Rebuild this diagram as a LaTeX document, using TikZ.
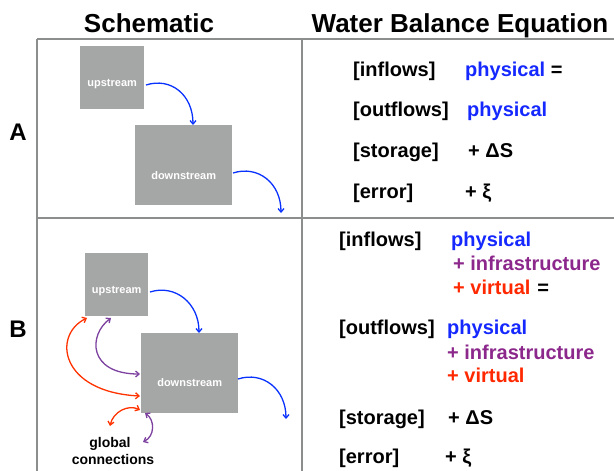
\documentclass[tikz,border=0pt]{standalone}
\usepackage{fontspec}
\setmainfont{Liberation Sans}
\usetikzlibrary{arrows.meta}
\definecolor{gridgray}{RGB}{140,142,142}
\definecolor{boxgray}{RGB}{165,167,166}
\definecolor{flowblue}{RGB}{10,50,255}
\definecolor{flowpurple}{RGB}{125,65,160}
\definecolor{flowred}{RGB}{255,50,0}
\definecolor{txtblue}{RGB}{20,40,255}
\definecolor{txtpurple}{RGB}{140,40,140}
\definecolor{txtred}{RGB}{255,40,0}
\begin{document}
\begin{tikzpicture}[x=1pt,y=-1pt,
  gridline/.style={draw=gridgray, line width=2pt},
  boxnode/.style={fill=boxgray, draw=none, inner sep=0pt, anchor=north west},
  boxlbl/.style={text=white, font=\fontsize{11}{13}\selectfont\bfseries, inner sep=0pt},
  header/.style={anchor=base, inner sep=0pt, font=\fontsize{26}{30}\selectfont\bfseries},
  rowlbl/.style={anchor=base, inner sep=0pt, font=\fontsize{24}{28}\selectfont\bfseries},
  eq/.style={anchor=base west, inner sep=0pt, font=\fontsize{20}{24}\selectfont\bfseries},
  flowarrow/.style={line width=1.3pt, -{Straight Barb[length=3.5pt,width=6pt]}},
  flowboth/.style={line width=1.3pt, {Straight Barb[length=3.5pt,width=6pt]}-{Straight Barb[length=3.5pt,width=6pt]}},
  gc/.style={anchor=base, inner sep=0pt, font=\fontsize{14}{16}\selectfont\bfseries}]
\useasboundingbox (0,0) rectangle (614,471);

% grid
\draw[gridline] (37,39) -- (614,39);
\draw[gridline] (37,39) -- (37,471);
\draw[gridline] (302,39) -- (302,471);
\draw[gridline] (37,218) -- (614,218);

% headers
\node[header] (hS) at (149,32) {Schematic};
\node[header] (hW) at (460,32) {Water Balance Equation};
\node[rowlbl] (rA) at (18,140) {A};
\node[rowlbl] (rB) at (18,337) {B};

% ---- Panel A schematic
\node[boxnode, minimum width=64pt, minimum height=63pt,
  label={[boxlbl, yshift=-6pt]center:upstream}] (upA) at (80,46) {};
\node[boxnode, minimum width=97pt, minimum height=80pt,
  label={[boxlbl, yshift=-10pt]center:downstream}] (downA) at (135,125) {};
\coordinate (a1s) at (146,85);
\coordinate (a1e) at (193,125);
\coordinate (a2s) at (233,173);
\coordinate (a2e) at (281,213);
\draw[flowarrow, flowblue] (a1s) .. controls +(25,-8) and +(0,-30) .. (a1e);
\draw[flowarrow, flowblue] (a2s) .. controls +(25,-8) and +(0,-30) .. (a2e);

% ---- Panel B schematic
\node[boxnode, minimum width=63pt, minimum height=63pt,
  label={[boxlbl, yshift=-6.5pt]center:upstream}] (upB) at (85,253) {};
\node[boxnode, minimum width=97pt, minimum height=80pt,
  label={[boxlbl, yshift=-9pt]center:downstream}] (downB) at (141,333) {};
\coordinate (b1s) at (150,292);
\coordinate (b1e) at (199,333);
\coordinate (b2s) at (238,379);
\coordinate (b2e) at (286,419);
\draw[flowarrow, flowblue] (b1s) .. controls +(25,-8) and +(0,-30) .. (b1e);
\draw[flowarrow, flowblue] (b2s) .. controls +(25,-8) and +(0,-30) .. (b2e);

\coordinate (r1s) at (87,318);
\coordinate (r1e) at (140,396);
\draw[flowboth, flowred] (r1s) .. controls +(-35,17) and +(-80,-4) .. (r1e);
\coordinate (p1s) at (111,318);
\coordinate (p1e) at (140,374);
\draw[flowboth, flowpurple] (p1s) .. controls +(-23,17) and +(-52,0) .. (p1e);
\coordinate (r2s) at (140,410);
\coordinate (r2e) at (110,426);
\draw[flowboth, flowred] (r2s) .. controls +(-12,-6) and +(3,-14) .. (r2e);
\coordinate (p2s) at (145,413);
\coordinate (p2e) at (143,442);
\draw[flowboth, flowpurple] (p2s) .. controls +(10,7) and +(12,-6) .. (p2e);

\node[gc] (gc1) at (110,447) {global};
\node[gc] (gc2) at (113,464) {connections};

% ---- Panel A equation
\node[eq] (aI) at (353,76.5) {[inflows]};
\node[eq] (aIv) at (465,76.5) {\textcolor{txtblue}{physical} =};
\node[eq] (aO) at (353,116.5) {[outflows]};
\node[eq] (aOv) at (467,116.5) {\textcolor{txtblue}{physical}};
\node[eq] (aS) at (353,157.5) {[storage]};
\node[eq] (aSv) at (468,157.5) {+ ΔS};
\node[eq] (aE) at (353,198.5) {[error]};
\node[eq] (aEv) at (465,198.5) {+ ξ};

% ---- Panel B equation
\node[eq] (bI) at (339,246.5) {[inflows]};
\node[eq] (bI1) at (451,246.5) {\textcolor{txtblue}{physical}};
\node[eq] (bI2) at (453,270.5) {\textcolor{txtpurple}{+ infrastructure}};
\node[eq] (bI3) at (453,294.5) {\textcolor{txtred}{+ virtual}\hspace{7pt}=};
\node[eq] (bO) at (339,334.5) {[outflows]};
\node[eq] (bO1) at (447,334.5) {\textcolor{txtblue}{physical}};
\node[eq] (bO2) at (447,359.5) {\textcolor{txtpurple}{+ infrastructure}};
\node[eq] (bO3) at (447,382.5) {\textcolor{txtred}{+ virtual}};
\node[eq] (bS) at (339,424.5) {[storage]};
\node[eq] (bSv) at (448,424.5) {+ ΔS};
\node[eq] (bE) at (339,463.5) {[error]};
\node[eq] (bEv) at (445,463.5) {+ ξ};
\end{tikzpicture}
\end{document}
